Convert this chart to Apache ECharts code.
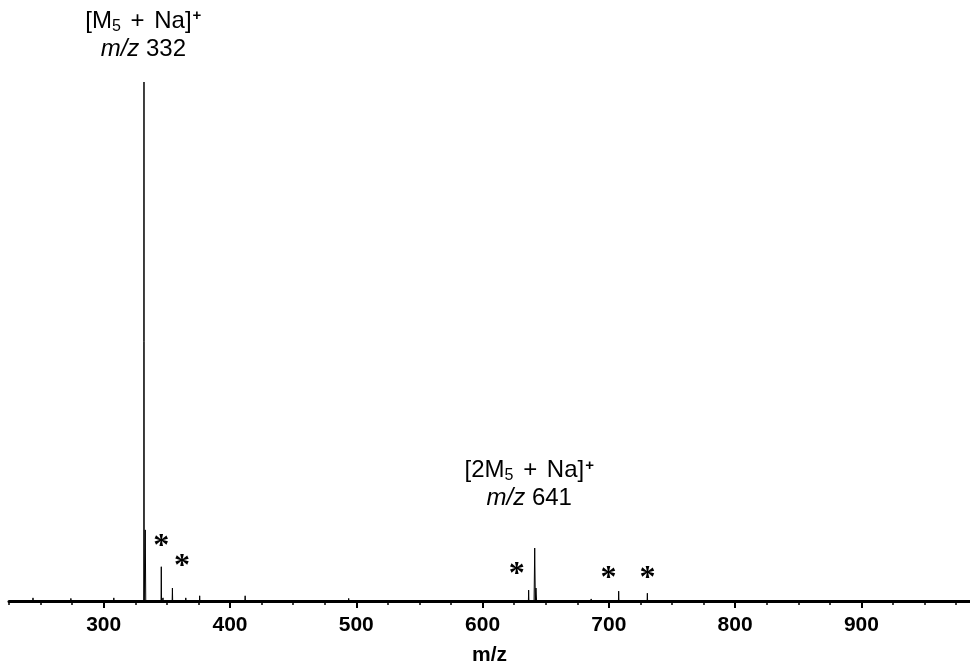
<!DOCTYPE html>
<html>
<head>
<meta charset="utf-8">
<script src="https://cdn.jsdelivr.net/npm/echarts@6/dist/echarts.min.js"></script>
<style>
  html, body { margin: 0; padding: 0; background: #fff; }
  #chart { width: 970px; height: 668px; }
</style>
</head>
<body>
<div id="chart"></div>
<script>
// peaks (m/z, relative intensity %)
const peakMz = [244, 274, 308, 331.9, 332.9, 345.6, 347, 354.4, 365, 376, 412, 494, 636.5, 641.3, 642.3, 686, 707.8, 730.5];
const peakIntensity = [0.6, 0.5, 0.6, 100, 13.7, 6.6, 0.6, 2.5, 0.6, 1.0, 1.0, 0.5, 2.1, 10.2, 2.5, 0.4, 1.9, 1.5];
const peakWidth = [0.2, 0.2, 0.2, 0.15, 0.4, 0.2, 0.2, 0.2, 0.2, 0.2, 0.2, 0.2, 0.2, 0.5, 0.5, 0.2, 0.2, 0.2];

const majorTicks = [300, 400, 500, 600, 700, 800, 900];
const minorTicks = [225, 250, 275, 325, 350, 375, 425, 450, 475, 525, 550, 575, 625, 650, 675,
                    725, 750, 775, 825, 850, 875, 925, 950, 975];

// asterisk marks
const starMz = [345.6, 361.9, 627, 699.8, 730.7];
const starY = [11.4, 7.6, 6.0, 5.2, 5.2];

// ion labels
const ionMz = [331.4, 637.0];
const ionY = [109.0, 22.4];
const ionText = [
  '{a|[M}{s|5}{o| + }{a|Na]}{p|+}\n{i|m/z}{a| 332}',
  '{a|[2M}{s|5}{o| + }{a|Na]}{p|+}\n{i|m/z}{a| 641}'
];

const mzMin = 225, mzMax = 986;

const spectrum = [[mzMin, 0]];
peakMz.forEach(function (mz, i) {
  spectrum.push([mz - peakWidth[i], 0]);
  spectrum.push([mz, peakIntensity[i]]);
  spectrum.push([mz + peakWidth[i], 0]);
});
spectrum.push([mzMax, 0]);

const font = '"Liberation Sans", Arial, Helvetica, sans-serif';

const myChart = echarts.init(document.getElementById('chart'));
const options = {
  animation: false,
  backgroundColor: '#fff',
  grid: { left: 9, right: 0, top: 82, bottom: 67, outerBoundsMode: 'none', containLabel: false },
  xAxis: [{
    type: 'value',
    min: mzMin,
    max: mzMax,
    position: 'bottom',
    name: 'm/z',
    nameLocation: 'middle',
    nameGap: 44,
    nameTextStyle: { fontFamily: font, fontWeight: 'bold', fontSize: 21, color: '#000' },
    axisLine: { show: true, lineStyle: { color: '#000', width: 3 } },
    axisTick: { show: true, customValues: majorTicks, length: 7, lineStyle: { color: '#000', width: 2 } },
    axisLabel: { customValues: majorTicks, margin: 14, fontFamily: font, fontWeight: 'bold', fontSize: 21, color: '#000' },
    splitLine: { show: false }
  }, {
    type: 'value',
    min: mzMin,
    max: mzMax,
    position: 'bottom',
    axisLine: { show: false },
    axisTick: { show: true, customValues: minorTicks, length: 4, lineStyle: { color: '#000', width: 1.5 } },
    axisLabel: { show: false },
    splitLine: { show: false }
  }],
  yAxis: { type: 'value', min: 0, max: 100, show: false },
  series: [{
    name: 'spectrum',
    type: 'line',
    xAxisIndex: 0,
    data: spectrum,
    symbol: 'none',
    lineStyle: { color: '#000', width: 1 },
    z: 3
  }, {
    name: 'stars',
    type: 'scatter',
    xAxisIndex: 0,
    symbolSize: 0,
    clip: false,
    itemStyle: { opacity: 1 },
    data: starMz.map(function (m, i) { return [m, starY[i]]; }),
    label: {
      show: true,
      position: 'inside',
      formatter: '*',
      fontFamily: '"Liberation Serif", "Times New Roman", serif',
      fontWeight: 'bold',
      fontSize: 32,
      color: '#000',
      opacity: 1,
      textBorderWidth: 0,
      offset: [0, 5]
    }
  }, {
    name: 'ions',
    type: 'scatter',
    xAxisIndex: 0,
    symbolSize: 0,
    clip: false,
    itemStyle: { opacity: 1 },
    data: ionMz.map(function (m, i) {
      return { value: [m, ionY[i]], label: { formatter: ionText[i] } };
    }),
    label: {
      show: true,
      position: 'inside',
      align: 'center',
      color: '#000',
      opacity: 1,
      textBorderWidth: 0,
      rich: {
        a: { fontFamily: font, fontSize: 24, lineHeight: 28, color: '#000' },
        o: { fontFamily: font, fontSize: 24, lineHeight: 28, padding: [0, 3, 0, 3], color: '#000' },
        i: { fontFamily: font, fontSize: 24, lineHeight: 28, fontStyle: 'italic', color: '#000' },
        s: { fontFamily: font, fontSize: 16, lineHeight: 28, padding: [10, 0, 0, 0], color: '#000' },
        p: { fontFamily: font, fontSize: 15, fontWeight: 'bold', lineHeight: 28, padding: [0, 0, 10, 1], color: '#000' }
      }
    }
  }]
};
myChart.setOption(options);
window.onresize = function () {
  myChart.resize();
};
</script>
</body>
</html>
